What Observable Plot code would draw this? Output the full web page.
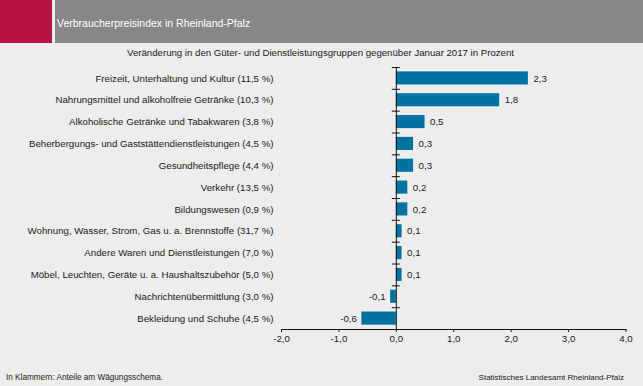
<!DOCTYPE html>
<html><head><meta charset="utf-8">
<script src="https://cdn.jsdelivr.net/npm/d3@7"></script>
<script src="https://cdn.jsdelivr.net/npm/@observablehq/plot@0.6"></script>
<style>
body{margin:0;background:#ededed;font-family:"Liberation Sans",Arial,sans-serif;}
#wrap{position:relative;width:643px;height:386px;overflow:hidden;background:#ededed;color:#1a1a1a;}
#red{position:absolute;left:0;top:0;width:52px;height:43px;background:#b5143f;}
#bar{position:absolute;left:55px;top:0;width:588px;height:43px;background:#878787;}
#title{position:absolute;left:57px;top:17px;color:#fff;font-size:10.5px;}
#sub{position:absolute;left:0;width:641px;top:47px;text-align:center;font-size:9.65px;}
#chart{position:absolute;left:0;top:60px;}
#foot1{position:absolute;left:6px;top:373px;font-size:8.2px;}
#foot2{position:absolute;right:19px;top:373px;font-size:8px;}
</style></head>
<body>
<div id="wrap">
<div id="red"></div><div id="bar"></div>
<div id="title">Verbraucherpreisindex in Rheinland-Pfalz</div>
<div id="sub">Veränderung in den Güter- und Dienstleistungsgruppen gegenüber Januar 2017 in Prozent</div>
<div id="chart"></div>
<div id="foot1">In Klammern: Anteile am Wägungsschema.</div>
<div id="foot2">Statistisches Landesamt Rheinland-Pfalz</div>
</div>
<script>
const categories = [
  "Freizeit, Unterhaltung und Kultur (11,5 %)",
  "Nahrungsmittel und alkoholfreie Getränke (10,3 %)",
  "Alkoholische Getränke und Tabakwaren (3,8 %)",
  "Beherbergungs- und Gaststättendienstleistungen (4,5 %)",
  "Gesundheitspflege (4,4 %)",
  "Verkehr (13,5 %)",
  "Bildungswesen (0,9 %)",
  "Wohnung, Wasser, Strom, Gas u. a. Brennstoffe (31,7 %)",
  "Andere Waren und Dienstleistungen (7,0 %)",
  "Möbel, Leuchten, Geräte u. a. Haushaltszubehör (5,0 %)",
  "Nachrichtenübermittlung (3,0 %)",
  "Bekleidung und Schuhe (4,5 %)"
];
const values = [2.3, 1.8, 0.5, 0.3, 0.3, 0.2, 0.2, 0.1, 0.1, 0.1, -0.1, -0.6];
const xTicks = [-2, -1, 0, 1, 2, 3, 4];

const data = categories.map((c, i) => ({cat: c, value: values[i]}));
const fmt = v => d3.format(".1f")(v).replace(".", ",").replace("\u2212", "-");

const H = 295, mT = 7, mB = 26;
const n = categories.length;
const step = (H - mT - mB) / n;             // band step
const yRange = [mT - 0.2 * step, H - mB + 0.2 * step];  // so outer padding 0.4 lands bands in the frame

const chart = Plot.plot({
  width: 643, height: H,
  marginLeft: 281, marginRight: 17.5, marginTop: mT, marginBottom: mB,
  style: {background: "transparent", fontFamily: "Liberation Sans, Arial, sans-serif", fontSize: "9.7px", color: "#1a1a1a"},
  x: {domain: [-2, 4], label: null},
  y: {domain: categories, range: yRange, padding: 0.4, round: false, label: null},
  marks: [
    Plot.barX(data, {x: "value", y: "cat", fill: "#0073a3"}),
    Plot.frame({anchor: "bottom", stroke: "#111"}),
    Plot.axisX({ticks: xTicks, tickFormat: fmt, tickSize: 3, tickPadding: 3, label: null}),
    Plot.axisY({tickSize: 0, tickPadding: 8, label: null}),
    Plot.ruleX([0], {stroke: "#111"}),
    Plot.ruleY(categories, {y: d => d, x1: -0.07, x2: 0.07, dy: -step / 2, stroke: "#111"}),
    Plot.text(data.filter(d => d.value >= 0), {x: "value", y: "cat", text: d => fmt(d.value), dx: 5, textAnchor: "start", fontSize: 9.7}),
    Plot.text(data.filter(d => d.value < 0), {x: "value", y: "cat", text: d => fmt(d.value), dx: -5, textAnchor: "end", fontSize: 9.7})
  ]
});
document.getElementById("chart").appendChild(chart);
</script>
</body></html>
